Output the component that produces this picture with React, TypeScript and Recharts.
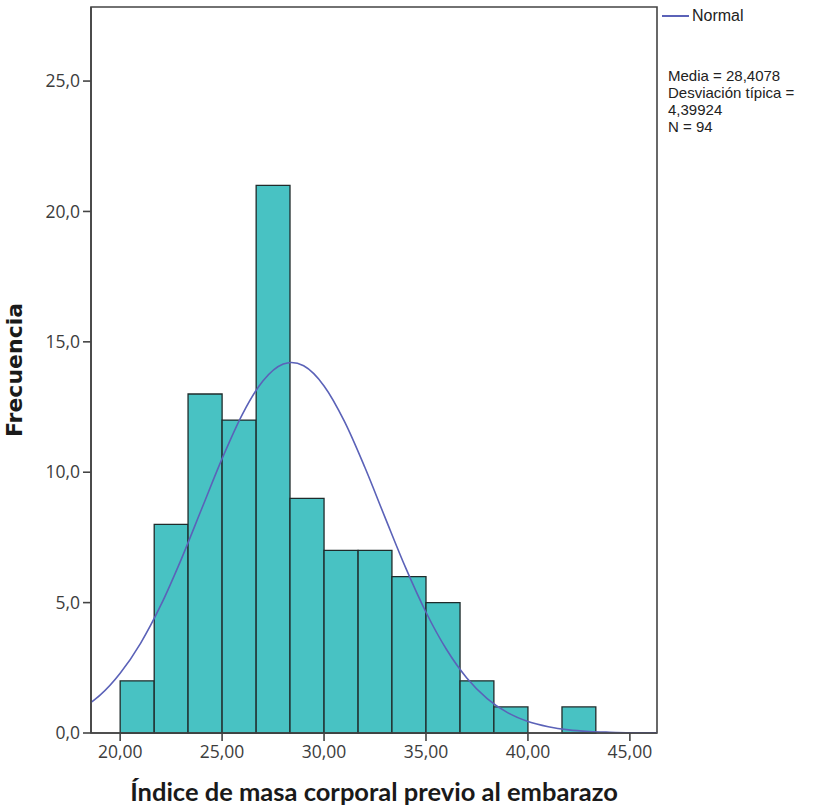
import { ComposedChart, Line, XAxis, YAxis, ReferenceArea, Legend } from 'recharts';

// histogram bins (BMI) and counts
const binEdges = [20, 21.67, 23.33, 25, 26.67, 28.33, 30, 31.67, 33.33, 35, 36.67, 38.33, 40, 41.67, 43.33];
const binCounts = [2, 8, 13, 12, 21, 9, 7, 7, 6, 5, 2, 1, 0, 1];

// fitted normal curve
const curveX = [18.57, 19, 20, 21, 22, 23, 24, 25, 26, 27, 28, 28.4, 29, 30, 31, 32, 33, 34, 35, 36, 37, 38, 39, 40, 41, 42, 43, 44, 45, 46.33];
const curveY = [1.17, 1.44, 2.29, 3.44, 4.91, 6.67, 8.6, 10.52, 12.23, 13.5, 14.15, 14.21, 14.08, 13.31, 11.95, 10.19, 8.25, 6.34, 4.63, 3.21, 2.11, 1.32, 0.78, 0.44, 0.24, 0.12, 0.06, 0.03, 0.01, 0.003];

const xTicks = [20, 25, 30, 35, 40, 45];
const yTicks = [0, 5, 10, 15, 20, 25];
const xDomain = [18.57, 46.33];
const yDomain = [0, 27.84];

const statLines = ['Media = 28,4078', 'Desviación típica =', '4,39924', 'N = 94'];

const curveData = curveX.map((x, i) => ({ x, y: curveY[i] }));

const tickStyle = { fontFamily: 'Open Sans', fontSize: 17.5, fill: '#3c3c3c' };
const frame = '#444';

function LegendBox() {
  return (
    <div style={{ fontFamily: 'Liberation Sans', color: '#222', fontSize: 15, lineHeight: '17px' }}>
      <div style={{ display: 'flex', alignItems: 'center', fontSize: 16 }}>
        <span style={{ display: 'inline-block', width: 27, height: 2, background: '#5b62b8', marginRight: 3 }} />
        <span>Normal</span>
      </div>
      <div style={{ marginTop: 43, marginLeft: 6 }}>
        {statLines.map((s) => (
          <div key={s} style={{ whiteSpace: 'nowrap' }}>{s}</div>
        ))}
      </div>
    </div>
  );
}

export default function App() {
  return (
    <div style={{ position: 'absolute', left: 0, top: 0, background: '#fff' }}>
      <ComposedChart width={814} height={809} data={curveData} margin={{ top: 7, right: 157, bottom: 0, left: 0 }}>
        <XAxis
          dataKey="x"
          type="number"
          domain={xDomain}
          allowDataOverflow
          ticks={xTicks}
          tickFormatter={(v: number) => v.toFixed(2).replace('.', ',')}
          tick={tickStyle}
          tickSize={8}
          tickMargin={5}
          height={76}
          axisLine={{ stroke: frame, strokeWidth: 1.6 }}
          tickLine={{ stroke: frame, strokeWidth: 1.6 }}
          label={{
            value: 'Índice de masa corporal previo al embarazo',
            position: 'insideBottom',
            offset: 8,
            style: { fontFamily: 'Lato', fontWeight: 700, fontSize: 25.5, fill: '#1a1a1a' },
          }}
        />
        <YAxis
          type="number"
          domain={yDomain}
          allowDataOverflow
          ticks={yTicks}
          tickFormatter={(v: number) => v.toFixed(1).replace('.', ',')}
          tick={tickStyle}
          tickSize={8}
          tickMargin={3}
          width={91}
          axisLine={{ stroke: frame, strokeWidth: 1.6 }}
          tickLine={{ stroke: frame, strokeWidth: 1.6 }}
          label={{
            value: 'Frecuencia',
            angle: -90,
            position: 'insideLeft',
            offset: 14,
            style: { fontFamily: 'DejaVu Sans', fontWeight: 700, fontSize: 22, fill: '#1a1a1a', textAnchor: 'middle' },
          }}
        />
        {/* plot frame */}
        <ReferenceArea
          x1={xDomain[0]}
          x2={xDomain[1]}
          y1={yDomain[0]}
          y2={yDomain[1]}
          fill="none"
          stroke={frame}
          strokeWidth={1.6}
        />
        {binCounts.map((c, i) =>
          c > 0 ? (
            <ReferenceArea
              key={i}
              x1={binEdges[i]}
              x2={binEdges[i + 1]}
              y1={0}
              y2={c}
              fill="#48c2c3"
              fillOpacity={1}
              stroke="#1f2b2b"
              strokeWidth={1.3}
            />
          ) : null
        )}
        <Line
          dataKey="y"
          type="monotone"
          dot={false}
          stroke="#5b62b8"
          strokeWidth={1.6}
          isAnimationActive={false}
          legendType="none"
        />
        <Legend
          layout="vertical"
          align="center"
          verticalAlign="middle"
          wrapperStyle={{ left: 662, top: 7, width: 152 }}
          content={() => <LegendBox />}
        />
      </ComposedChart>
    </div>
  );
}
